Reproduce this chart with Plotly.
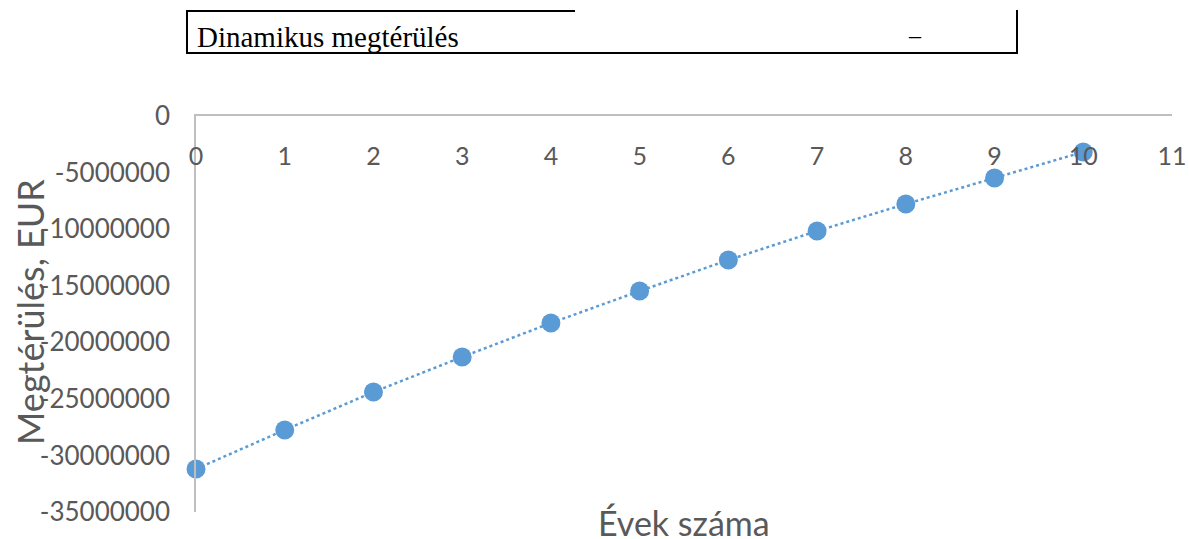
import plotly.graph_objects as go

years = [0, 1, 2, 3, 4, 5, 6, 7, 8, 9, 10]
payback = [-31200000, -27750000, -24400000, -21300000, -18300000, -15470000,
           -12730000, -10160000, -7780000, -5480000, -3180000]
x_ticks = list(range(0, 12))
y_ticks = [0, -5000000, -10000000, -15000000, -20000000, -25000000, -30000000, -35000000]
y_tick_labels = ["0", "-5000000", "-10000000", "-15000000", "-20000000",
                 "-25000000", "-30000000", "-35000000"]

W, H = 1189, 539
L, R, T, B = 196, 1172, 116, 512


def px(x):
    return (x - L) / (R - L)


def py(y):
    return (B - y) / (B - T)


fig = go.Figure()
fig.add_trace(go.Scatter(
    x=years, y=payback, mode="lines+markers",
    line=dict(color="#5B9BD5", width=2.5, dash="dot"),
    marker=dict(color="#5B9BD5", size=19),
    cliponaxis=False, showlegend=False,
))

font = "Lato, 'Open Sans', sans-serif"
gray = "#595959"

fig.update_layout(
    width=W, height=H,
    margin=dict(l=L, r=W - R, t=T, b=H - B, autoexpand=False),
    paper_bgcolor="white", plot_bgcolor="white",
    xaxis=dict(range=[0, 11], side="top", tickvals=x_ticks,
               ticklabelposition="inside", ticklabeloverflow="allow",
               ticklabelstandoff=34, automargin=False,
               showgrid=False, zeroline=False, showline=True,
               linecolor="#bfbfbf", linewidth=1.5, ticks="",
               tickfont=dict(family=font, size=25, color=gray)),
    yaxis=dict(range=[-35000000, 0], tickvals=y_ticks,
               ticktext=y_tick_labels, automargin=False,
               showgrid=False, zeroline=False, showline=True,
               linecolor="#bfbfbf", linewidth=1.5, ticks="",
               ticklabelstandoff=19,
               tickfont=dict(family=font, size=26, color=gray)),
)

fig.add_annotation(xref="paper", yref="paper", x=0.5, y=py(522),
                   text="Évek száma", showarrow=False,
                   font=dict(family=font, size=34, color=gray),
                   xanchor="center", yanchor="middle")
fig.add_annotation(xref="paper", yref="paper", x=px(30), y=py(312),
                   text="Megtérülés, EUR", showarrow=False, textangle=-90,
                   font=dict(family=font, size=36, color=gray),
                   xanchor="center", yanchor="middle")

# header box
line = dict(color="black", width=2)
fig.add_shape(type="line", xref="paper", yref="paper",
              x0=px(187), x1=px(187), y0=py(10), y1=py(54), line=line)
fig.add_shape(type="line", xref="paper", yref="paper",
              x0=px(187), x1=px(575), y0=py(11), y1=py(11), line=line)
fig.add_shape(type="line", xref="paper", yref="paper",
              x0=px(187), x1=px(1018), y0=py(53), y1=py(53), line=line)
fig.add_shape(type="line", xref="paper", yref="paper",
              x0=px(1017), x1=px(1017), y0=py(10), y1=py(54), line=line)
fig.add_annotation(xref="paper", yref="paper", x=px(195), y=py(37),
                   text="Dinamikus megtérülés", showarrow=False,
                   font=dict(family="Liberation Serif, serif", size=29, color="black"),
                   xanchor="left", yanchor="middle")
fig.add_annotation(xref="paper", yref="paper", x=px(915), y=py(35),
                   text="–", showarrow=False,
                   font=dict(family="Liberation Serif, serif", size=24, color="black"),
                   xanchor="center", yanchor="middle")

fig.write_html("out.html", config={"displayModeBar": False},
               post_script="document.body.style.margin='0';")
